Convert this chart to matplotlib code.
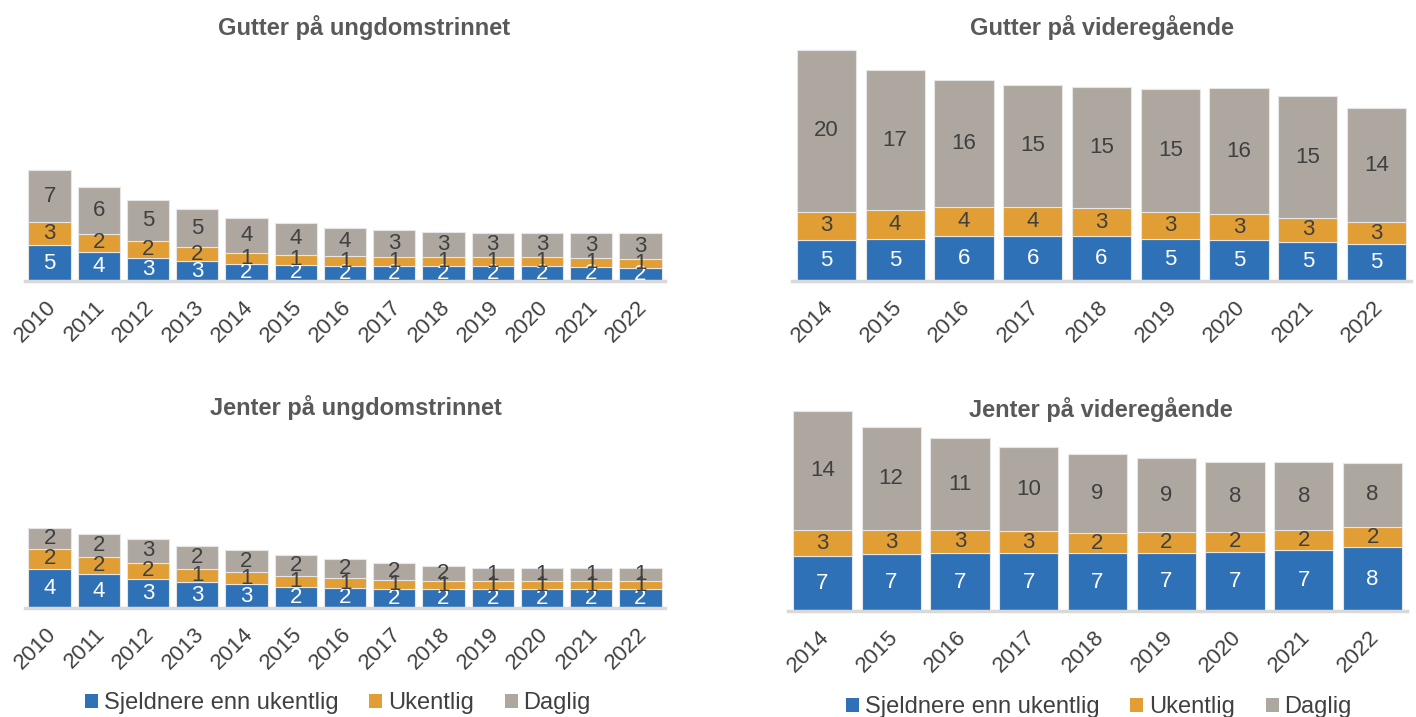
import matplotlib.pyplot as plt
from matplotlib.patches import Patch
from matplotlib.transforms import ScaledTranslation

plt.rcParams['font.family'] = ['Liberation Sans', 'DejaVu Sans']

# Years
years_ung = ['2010', '2011', '2012', '2013', '2014', '2015', '2016',
             '2017', '2018', '2019', '2020', '2021', '2022']
years_vgs = ['2014', '2015', '2016', '2017', '2018', '2019', '2020', '2021', '2022']

series_names = ['Sjeldnere enn ukentlig', 'Ukentlig', 'Daglig']

# Gutter på ungdomstrinnet
gutter_ung_sjelden = [4.65, 3.74, 3.04, 2.6, 2.22, 2.09, 1.96, 1.96, 1.96, 1.96, 1.96, 1.87, 1.74]
gutter_ung_ukentlig = [3.04, 2.45, 2.13, 1.78, 1.45, 1.35, 1.26, 1.22, 1.22, 1.22, 1.22, 1.17, 1.17]
gutter_ung_daglig = [6.78, 6.13, 5.45, 5.0, 4.48, 4.13, 3.74, 3.43, 3.22, 3.09, 3.09, 3.22, 3.3]

# Jenter på ungdomstrinnet
jenter_ung_sjelden = [4.14, 3.54, 3.09, 2.7, 2.52, 2.25, 2.14, 2.04, 1.96, 1.96, 1.96, 1.96, 2.0]
jenter_ung_ukentlig = [2.1, 1.86, 1.65, 1.4, 1.23, 1.09, 0.98, 0.88, 0.91, 0.88, 0.88, 0.88, 0.84]
jenter_ung_daglig = [2.14, 2.39, 2.55, 2.45, 2.35, 2.21, 2.0, 1.82, 1.58, 1.4, 1.33, 1.33, 1.4]

# Gutter på videregående
gutter_vgs_sjelden = [5.08, 5.16, 5.55, 5.55, 5.55, 5.2, 5.04, 4.84, 4.55]
gutter_vgs_ukentlig = [3.4, 3.55, 3.55, 3.55, 3.4, 3.28, 3.16, 2.91, 2.66]
gutter_vgs_daglig = [19.96, 17.21, 15.61, 15.04, 14.96, 15.16, 15.55, 15.0, 14.02]

# Jenter på videregående
jenter_vgs_sjelden = [6.56, 6.8, 6.92, 6.92, 6.92, 7.0, 7.12, 7.28, 7.64]
jenter_vgs_ukentlig = [3.12, 2.88, 2.76, 2.64, 2.45, 2.44, 2.36, 2.4, 2.44]
jenter_vgs_daglig = [14.32, 12.44, 11.04, 10.08, 9.44, 8.92, 8.45, 8.24, 7.72]

colors = ['#2E71B6', '#E09E35', '#ADA7A0']
label_colors = ['white', '#404040', '#404040']

W, H = 1416, 717
fig = plt.figure(figsize=(W / 100, H / 100), dpi=100)


def make_axes(x0, x1, base, top):
    return fig.add_axes([x0 / W, (H - base) / H, (x1 - x0) / W, (base - top) / H])


def draw_panel(ax, years, series, ymax, title, title_x, title_y):
    bottom = [0] * len(years)
    for vals, col, lcol in zip(series, colors, label_colors):
        bars = ax.bar(years, vals, bottom=bottom, width=0.86, color=col,
                      edgecolor='#E6E6E6', linewidth=0.8)
        ax.bar_label(bars, fmt='{:.0f}', label_type='center', color=lcol, fontsize=16)
        bottom = [b + v for b, v in zip(bottom, vals)]
    ax.set_xlim(-0.5, len(years) - 0.5)
    ax.set_ylim(0, ymax)
    ax.set_yticks([])
    for s in ['top', 'right', 'left']:
        ax.spines[s].set_visible(False)
    ax.spines['bottom'].set_color('#D9D9D9')
    ax.spines['bottom'].set_linewidth(2.5)
    ax.tick_params(axis='x', length=0, pad=6, labelsize=16, labelcolor='#404040')
    shift = ScaledTranslation(-0.04, -0.07, fig.dpi_scale_trans)
    for lab in ax.get_xticklabels():
        lab.set_rotation(45)
        lab.set_ha('right')
        lab.set_rotation_mode('anchor')
        lab.set_transform(lab.get_transform() + shift)
    fig.text(title_x / W, (H - title_y) / H, title, ha='center', va='center',
             fontsize=17, fontweight='bold', color='#595959')


ax1 = make_axes(25, 665, 281, 45)
draw_panel(ax1, years_ung, [gutter_ung_sjelden, gutter_ung_ukentlig, gutter_ung_daglig],
           236 / 7.67, 'Gutter på ungdomstrinnet', 364, 28)

ax2 = make_axes(792, 1411, 281, 45)
draw_panel(ax2, years_vgs, [gutter_vgs_sjelden, gutter_vgs_ukentlig, gutter_vgs_daglig],
           236 / 8.13, 'Gutter på videregående', 1102, 28)

ax3 = make_axes(25, 665, 608, 425)
draw_panel(ax3, years_ung, [jenter_ung_sjelden, jenter_ung_ukentlig, jenter_ung_daglig],
           183 / 9.5, 'Jenter på ungdomstrinnet', 356, 407)

ax4 = make_axes(788, 1407, 611, 410)
draw_panel(ax4, years_vgs, [jenter_vgs_sjelden, jenter_vgs_ukentlig, jenter_vgs_daglig],
           201 / 8.33, 'Jenter på videregående', 1101, 409)

handles = [Patch(facecolor=c, edgecolor='none') for c in colors]
for cx, cy in [(338, 703), (1099, 707)]:
    fig.legend(handles, series_names, loc='center', bbox_to_anchor=(cx / W, (H - cy) / H),
               ncol=3, frameon=False, fontsize=17, handlelength=0.55, handleheight=0.55,
               handletextpad=0.25, columnspacing=1.3, labelcolor='#404040',
               borderpad=0, borderaxespad=0)

fig.savefig('out.png', dpi=100)
